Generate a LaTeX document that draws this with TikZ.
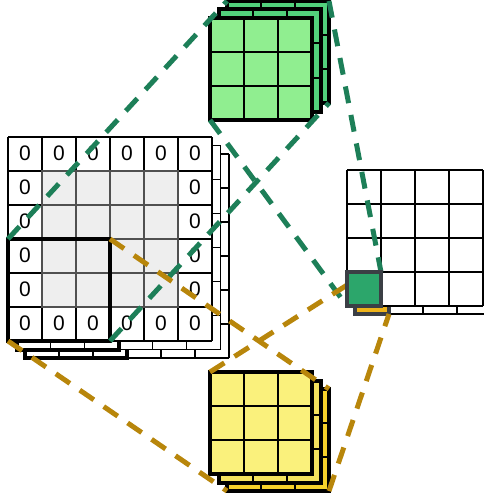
\documentclass[tikz,border=0pt]{standalone}
\usepackage{fontspec}
\setmainfont{Liberation Sans}
\definecolor{cellgray}{HTML}{EEEEEE}
\definecolor{innerline}{HTML}{505050}
\definecolor{glight}{HTML}{90EE90}
\definecolor{gmid}{HTML}{52D17C}
\definecolor{ylight}{HTML}{FAF17C}
\definecolor{ymid}{HTML}{F4E25E}
\definecolor{ygold}{HTML}{F6D12B}
\definecolor{ogreen}{HTML}{2CA66B}
\definecolor{ogray}{HTML}{3B3F45}
\definecolor{oyellow}{HTML}{EEB31A}
\definecolor{gdash}{HTML}{1D7F58}
\definecolor{ydash}{HTML}{B8860B}
\newcommand\mkgrid[6]{%
  \fill[#5] (#1,#2) rectangle ++(#3*34,#4*34);
  \foreach \k in {0,...,#3}{\draw[#6] ({#1+\k*34},#2) -- ++(0,#4*34);}
  \foreach \k in {0,...,#4}{\draw[#6] (#1,{#2+\k*34}) -- ++(#3*34,0);}
}
\tikzset{
  thinline/.style={black,line width=1.3pt},
  kline/.style={black,line width=2pt},
  kborder/.style={black,line width=4pt},
  fborder/.style={black,line width=4.5pt},
  gdashed/.style={gdash,line width=5pt,dash pattern=on 17pt off 12pt},
  ydashed/.style={ydash,line width=5pt,dash pattern=on 17pt off 12pt},
  zero/.style={font=\fontsize{21}{25}\selectfont,inner sep=0pt},
  ocell/.style={draw=ogray,line width=4pt}
}
\begin{document}
\begin{tikzpicture}[x=1pt,y=-1pt]
\useasboundingbox (0,0) rectangle (484,503);
\clip (0,0) rectangle (484,503);
% ---- input volume: back layers
\mkgrid{25}{154}{6}{6}{white}{thinline}
\draw[kborder] (25,256) rectangle ++(102,102);
\mkgrid{16.5}{145.5}{6}{6}{white}{thinline}
\draw[kborder] (16.5,247.5) rectangle ++(102,102);
% ---- input front layer
\mkgrid{8}{137}{6}{6}{white}{thinline}
\fill[cellgray] (42,171) rectangle ++(136,136);
\foreach \k in {1,...,3}{
  \draw[innerline,line width=1.3pt] ({42+\k*34},171) -- ++(0,136);
  \draw[innerline,line width=1.3pt] (42,{171+\k*34}) -- ++(136,0);}
\draw[innerline,line width=1.3pt] (42,171) rectangle ++(136,136);
\foreach \c in {0,...,5}{
  \node[zero] (zt\c) at ({25+\c*34},153) {0};
  \node[zero] (zb\c) at ({25+\c*34},323) {0};}
\foreach \r in {1,...,4}{
  \node[zero] (zl\r) at (25,{153+\r*34}) {0};
  \node[zero] (zr\r) at (195,{153+\r*34}) {0};}
\draw[kborder] (8,239) rectangle ++(102,102);
\coordinate (inTL) at (8,239);
\coordinate (inTR) at (110,239);
\coordinate (inBL) at (8,341);
\coordinate (inBR) at (110,341);
% ---- output volume
\mkgrid{355}{178}{4}{4}{white}{thinline}
\draw[ocell,fill=oyellow] (355,280) rectangle ++(34,34);
\mkgrid{347}{170}{4}{4}{white}{thinline}
\coordinate (oyTL) at (355,280);
\coordinate (oyBR) at (389,314);
\coordinate (ogTR) at (381,272);
\coordinate (ogBL) at (347,306);
% ---- green kernel
\mkgrid{227}{1}{3}{3}{gmid}{kline}
\draw[kborder] (227,1) rectangle ++(102,102);
\mkgrid{218.5}{9.5}{3}{3}{gmid}{kline}
\draw[kborder] (218.5,9.5) rectangle ++(102,102);
\mkgrid{210}{18}{3}{3}{glight}{kline}
\draw[fborder] (210,18) rectangle ++(102,102);
\coordinate (gkTL) at (227,1);
\coordinate (gkTR) at (329,1);
\coordinate (gkBR) at (329,103);
\coordinate (gkBL) at (210,120);
% ---- yellow kernel
\mkgrid{227}{389}{3}{3}{ygold}{kline}
\draw[kborder] (227,389) rectangle ++(102,102);
\mkgrid{218.5}{380.5}{3}{3}{ymid}{kline}
\draw[kborder] (218.5,380.5) rectangle ++(102,102);
\mkgrid{210}{372}{3}{3}{ylight}{kline}
\draw[fborder] (210,372) rectangle ++(102,102);
\coordinate (ykTL) at (210,372);
\coordinate (ykTR) at (329,389);
\coordinate (ykBL) at (227,491);
\coordinate (ykBR) at (329,491);
% ---- dashed connectors
\draw[gdashed] (inTL) -- (gkTL);
\draw[gdashed] (inBR) -- (gkBR);
\draw[gdashed] (gkTR) -- (ogTR);
\draw[gdashed] (gkBL) -- (ogBL);
\draw[ydashed] (inTR) -- (ykTR);
\draw[ydashed] (inBL) -- (ykBL);
\draw[ydashed] (ykTL) -- (oyTL);
\draw[ydashed] (ykBR) -- (oyBR);
% ---- output green cell
\draw[ocell,fill=ogreen] (347,272) rectangle ++(34,34);
\end{tikzpicture}
\end{document}
